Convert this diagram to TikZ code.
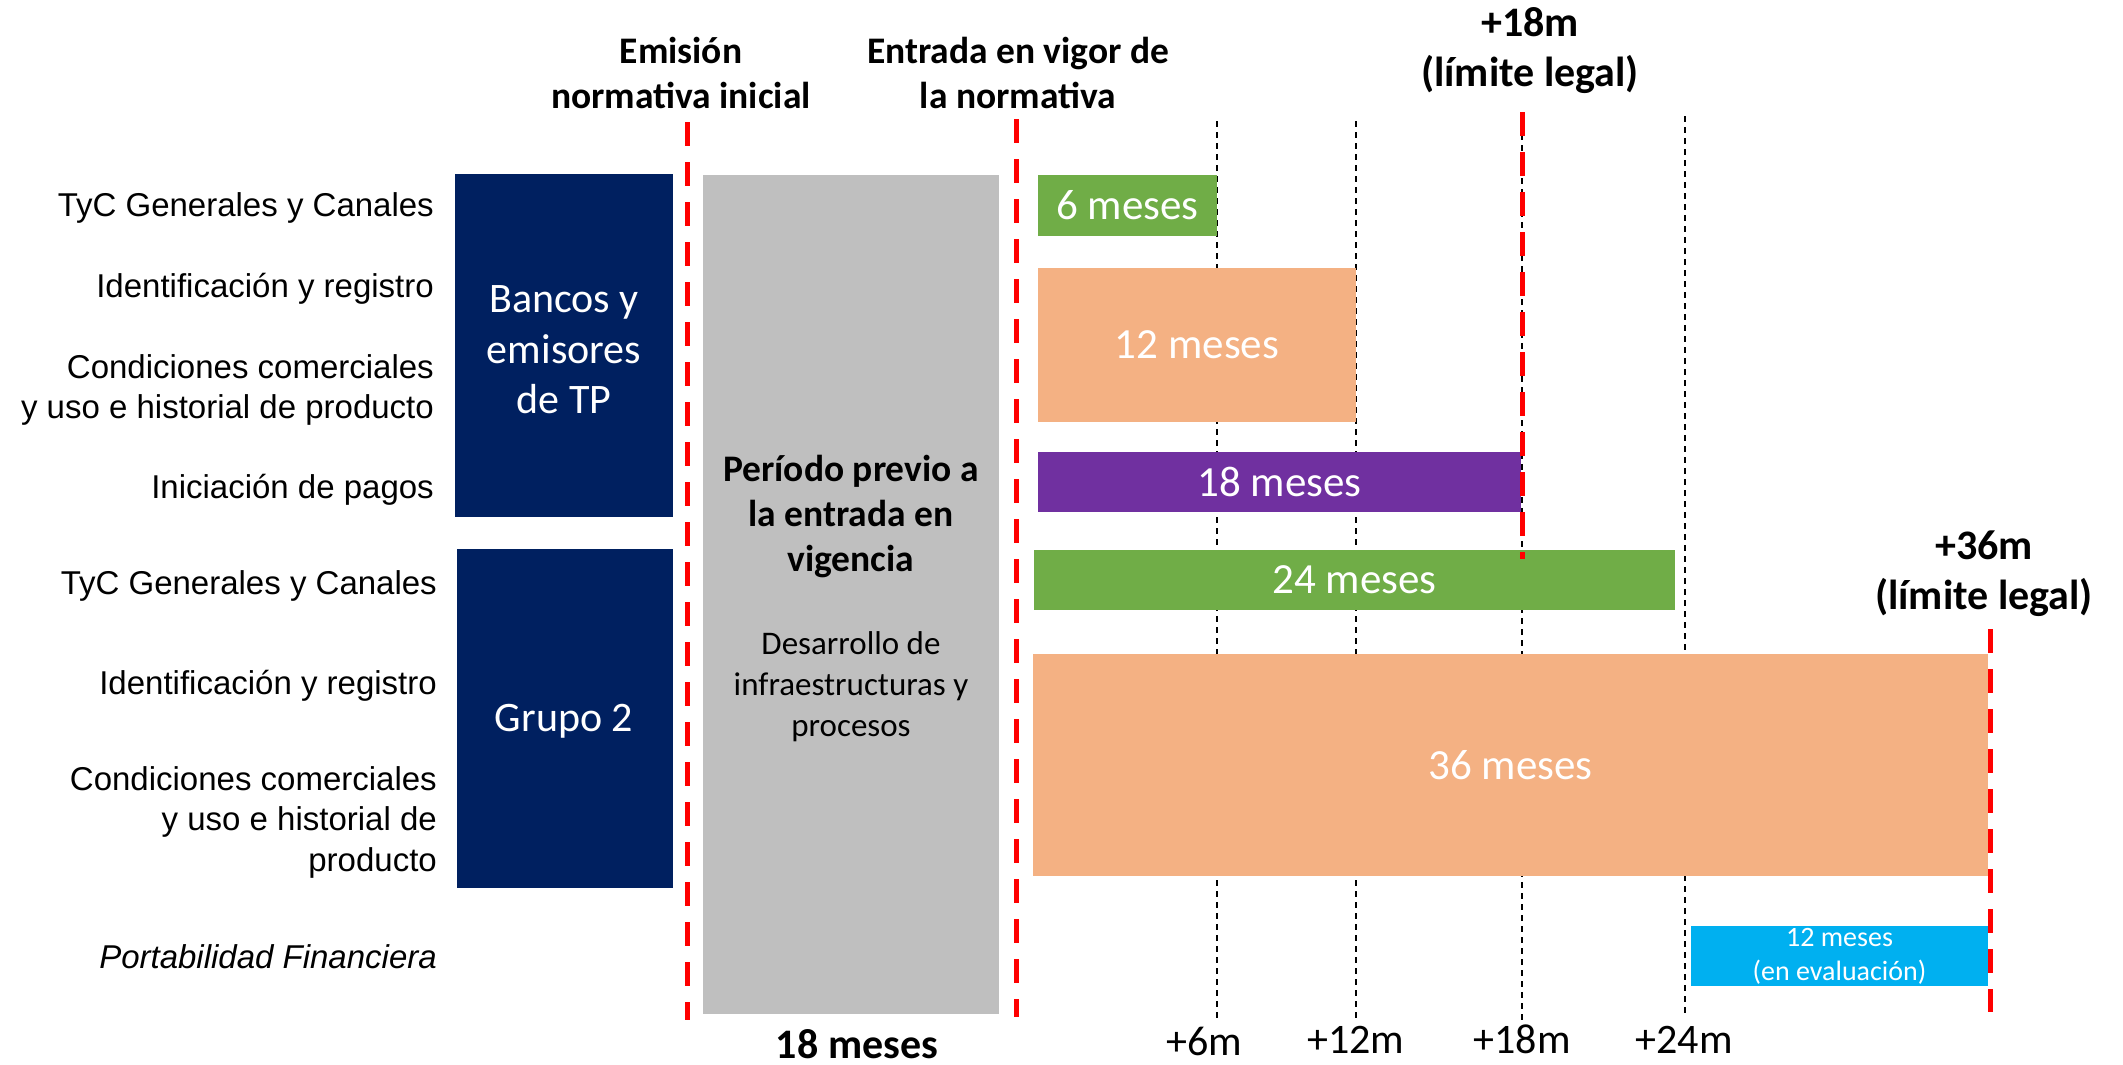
\documentclass[tikz,border=0pt]{standalone}
\usepackage{fontspec}
\setmainfont{Carlito}
\newfontfamily\arialf{Liberation Sans}
\definecolor{navy}{HTML}{002060}
\definecolor{greyb}{HTML}{BFBFBF}
\definecolor{cgreen}{HTML}{70AD47}
\definecolor{corange}{HTML}{F4B183}
\definecolor{cpurple}{HTML}{7030A0}
\definecolor{ccyan}{HTML}{00B0F0}
\definecolor{cred}{HTML}{FF0000}
\tikzset{
  bar/.style={inner sep=0pt, outer sep=0pt, text=white, align=center, anchor=center, font=\fontsize{43}{50}\selectfont},
  lbl/.style={anchor=east, align=right, inner sep=0pt, font=\arialf\fontsize{33}{40.5}\selectfont},
  hdr/.style={align=center, inner sep=0pt, font=\bfseries\fontsize{37.5}{45}\selectfont},
  hdrbig/.style={align=center, inner sep=0pt, font=\bfseries\fontsize{42}{50}\selectfont},
  tick/.style={inner sep=0pt, font=\fontsize{42}{50}\selectfont},
  redline/.style={draw=cred, line width=5pt, dash pattern=on 24pt off 16pt},
  gridline/.style={draw=black, line width=1.2pt, dash pattern=on 6pt off 5pt},
}
\begin{document}
\begin{tikzpicture}[x=1pt,y=-1pt]
\useasboundingbox (0,0) rectangle (2123,1065);

% coordinates for vertical lines
\coordinate (g6t) at (1217,121);  \coordinate (g6b) at (1217,1020);
\coordinate (g12t) at (1356,121); \coordinate (g12b) at (1356,1020);
\coordinate (g18t) at (1522,112); \coordinate (g18b) at (1522,1020);
\coordinate (g24t) at (1685,116); \coordinate (g24b) at (1685,1014);
\coordinate (r1t) at (687,122);   \coordinate (r1b) at (687,1020);
\coordinate (r2t) at (1016,119);  \coordinate (r2b) at (1016,1017);
\coordinate (r18t) at (1522,112); \coordinate (r18b) at (1522,559);
\coordinate (r36t) at (1990,629); \coordinate (r36b) at (1990,1012);

% grid dashed lines
\draw[gridline] (g6t) -- (g6b);
\draw[gridline] (g12t) -- (g12b);
\draw[gridline] (g18t) -- (g18b);
\draw[gridline] (g24t) -- (g24b);

% group boxes
\node[bar, fill=navy, minimum width=218pt, minimum height=343pt] (grp1) at (564,345.5) {};
\node[bar, fill=navy, minimum width=216pt, minimum height=339pt] (grp2) at (565,718.5) {};
\node[bar, font=\fontsize{42}{50.5}\selectfont] (grp1t) at (564,350) {Bancos y\\emisores\\de TP};
\node[bar, font=\fontsize{42}{50}\selectfont] (grp2t) at (564,721) {Grupo 2};

% grey period box
\node[bar, fill=greyb, minimum width=296pt, minimum height=839pt] (prev) at (851,594.5) {};
\node[hdr, text=black] (prevt) at (851,517) {Período previo a\\la entrada en\\vigencia};
\node[align=center, inner sep=0pt, font=\fontsize{33}{41}\selectfont] (prevd) at (851,687) {Desarrollo de\\infraestructuras y\\procesos};

% bars
\node[bar, fill=cgreen, minimum width=179pt, minimum height=61pt] (b6) at (1127.5,205.5) {6 meses};
\node[bar, fill=corange, minimum width=318pt, minimum height=154pt] (b12) at (1197,345) {12 meses};
\node[bar, fill=cpurple, minimum width=483pt, minimum height=60pt] (b18) at (1279.5,482) {18 meses};
\node[bar, fill=cgreen, minimum width=641pt, minimum height=60pt] (b24) at (1354.5,580) {24 meses};
\node[bar, fill=corange, minimum width=955pt, minimum height=222pt] (b36) at (1510.5,765) {36 meses};
\node[bar, fill=ccyan, minimum width=297pt, minimum height=60pt, font=\fontsize{28}{34}\selectfont] (bpf) at (1839.5,956) {12 meses\\(en evaluación)};

% red dashed lines
\draw[redline] (r1t) -- (r1b);
\draw[redline] (r2t) -- (r2b);
\draw[redline] (r18t) -- (r18b);
\draw[redline] (r36t) -- (r36b);

% left labels
\node[lbl] (l1) at (434,208) {TyC Generales y Canales};
\node[lbl] (l2) at (434,289) {Identificación y registro};
\node[lbl] (l3) at (434,390) {Condiciones comerciales\\y uso e historial de producto};
\node[lbl] (l4) at (434,490) {Iniciación de pagos};
\node[lbl] (l5) at (437,586) {TyC Generales y Canales};
\node[lbl] (l6) at (437,686) {Identificación y registro};
\node[lbl] (l7) at (437,822) {Condiciones comerciales\\y uso e historial de\\producto};
\node[lbl, font=\arialf\itshape\fontsize{33}{40.5}\selectfont] (l8) at (437,957) {Portabilidad Financiera};

% headers
\node[hdr] (h1) at (681,73) {Emisión\\normativa inicial};
\node[hdr] (h2) at (1018,73) {Entrada en vigor de\\la normativa};
\node[hdrbig] (h3) at (1530,51) {+18m\\(límite legal)};
\node[hdrbig] (h4) at (1984,574) {+36m\\(límite legal)};

% bottom labels
\node[tick, font=\bfseries\fontsize{42}{50}\selectfont] (t0) at (857,1044) {18 meses};
\node[tick] (t6) at (1204,1041) {+6m};
\node[tick] (t12) at (1356,1040) {+12m};
\node[tick] (t18) at (1522,1039) {+18m};
\node[tick] (t24) at (1684,1040) {+24m};
\end{tikzpicture}
\end{document}
